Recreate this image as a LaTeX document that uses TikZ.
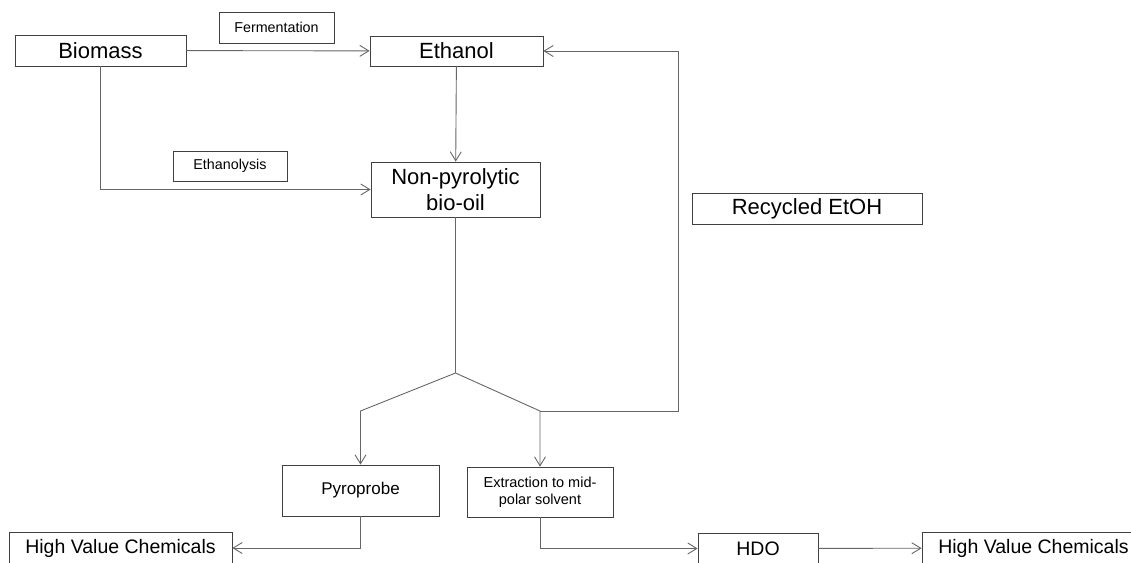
\documentclass[tikz,border=0pt]{standalone}
\usepackage{fontspec}
\setmainfont{Liberation Sans}
\usetikzlibrary{arrows.meta}

\tikzset{
  box/.style={draw=black!75, line width=0.8pt, inner sep=0pt, align=center},
  big/.style={font=\fontsize{22}{26}\selectfont},
  mid/.style={font=\fontsize{19.5}{23}\selectfont},
  small/.style={font=\fontsize{14.3}{16}\selectfont},
  link/.style={draw=black!60, line width=0.9pt},
  arr/.style={link, -{Straight Barb[length=9pt,width=11pt,line width=0.9pt]}},
}

\begin{document}
\begin{tikzpicture}[x=1pt,y=-1pt]
  \useasboundingbox (0,0) rectangle (1131,562);
  \clip (0,0) rectangle (1131,562);

  % top row
  \node[box,big,minimum width=171pt,minimum height=31pt] (biomass) at (100.5,50.5) {Biomass};
  \node[box,small,minimum width=115pt,minimum height=31pt] (ferment) at (276.5,27.5) {Fermentation};
  \node[box,big,minimum width=173pt,minimum height=30pt] (ethanol) at (456.5,51) {Ethanol};
  \node[box,small,minimum width=114pt,minimum height=30pt] (ethanolysis) at (230,166) {Ethanolysis};
  \node[box,big,minimum width=169pt,minimum height=55pt] (biooil) at (455.5,189.5) {Non-pyrolytic\\bio-oil};
  \node[box,big,minimum width=230pt,minimum height=31pt] (recycled) at (807,208.5) {Recycled EtOH};

  % lower part
  \node[box,font=\fontsize{17}{20}\selectfont,minimum width=157pt,minimum height=51pt] (pyro) at (360.5,490.5) {Pyroprobe};
  \node[box,font=\fontsize{14.5}{17}\selectfont,minimum width=146pt,minimum height=50pt] (extract) at (540,492) {Extraction to mid-\\polar solvent};
  \node[box,mid,minimum width=223pt,minimum height=31pt] (hvcL) at (120.5,548) {High Value Chemicals};
  \node[box,mid,minimum width=120pt,minimum height=31pt] (hdo) at (758,548.5) {HDO};
  \node[box,mid,minimum width=223pt,minimum height=31pt] (hvcR) at (1033.5,548) {High Value Chemicals};

  \coordinate (split) at (455.5,373);
  \coordinate (lcorner) at (360.5,411);
  \coordinate (rcorner) at (540,411);
  \coordinate (loop) at (678,411);

  \foreach \a/\b in {biomass/ethanol,ethanol/biooil,hdo/hvcR}
  {
    \draw[arr] (\a) -- (\b);
  }
  \draw[arr] (biomass) |- (biooil);
  \draw[link] (biooil) -- (split);
  \draw[arr] (split) -- (lcorner) -- (pyro);
  \draw[arr] (split) -- (rcorner) -- (extract);
  \draw[arr] (rcorner) -- (loop) |- (ethanol);
  \draw[arr] (pyro) |- (hvcL);
  \draw[arr] (extract) |- (hdo);
\end{tikzpicture}
\end{document}
